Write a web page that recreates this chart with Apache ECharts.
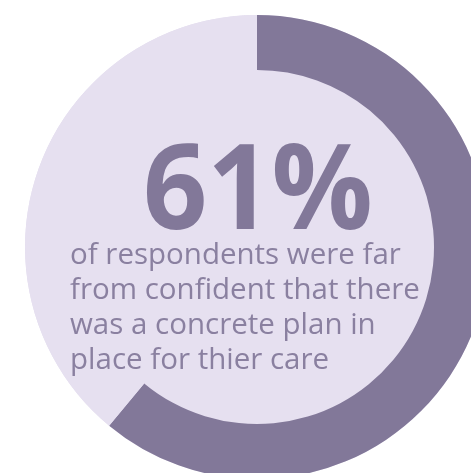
<!DOCTYPE html>
<html><head><meta charset="utf-8">
<script src="https://cdn.jsdelivr.net/npm/echarts@6/dist/echarts.min.js"></script>
<style>html,body{margin:0;padding:0;background:#fff}#c{width:471px;height:473px}</style>
</head><body><div id="c"></div>
<script>
const categories = ['Far from confident', 'Other'];
const values = [61, 39];
const headline = '61%';
const bodyLines = ['of respondents were far', 'from confident that there', 'was a concrete plan in', 'place for thier care'];

const dark = '#827899';
const light = '#e6e0f0';
const chart = echarts.init(document.getElementById('c'));
const cx = 257, cy = 247;
chart.setOption({
  animation: false,
  series: [
    { type: 'pie', center: [cx, cy], radius: [0, 232], silent: true, label: {show: false},
      data: [{ value: 1, name: 'bg', itemStyle: { color: light } }] },
    { type: 'pie', center: [cx, cy], radius: [177, 232], startAngle: 90, clockwise: true, silent: true,
      label: {show: false}, labelLine: {show: false},
      data: categories.map((c, i) => ({ name: c, value: values[i], itemStyle: { color: i === 0 ? dark : light } })) }
  ],
  graphic: [
    { type: 'text', z: 100, x: 143, y: 136, scaleX: 0.945, style: { text: headline, fontSize: 119, fontWeight: 'bold', fontFamily: 'Open Sans', fill: dark, textVerticalAlign: 'top' } },
    { type: 'text', z: 100, x: 70, y: 238, style: { text: bodyLines.join('\n'), fontSize: 29.5, fontFamily: 'Open Sans', lineHeight: 35, fill: '#8a80a0', textVerticalAlign: 'top' } }
  ]
});
</script></body></html>
